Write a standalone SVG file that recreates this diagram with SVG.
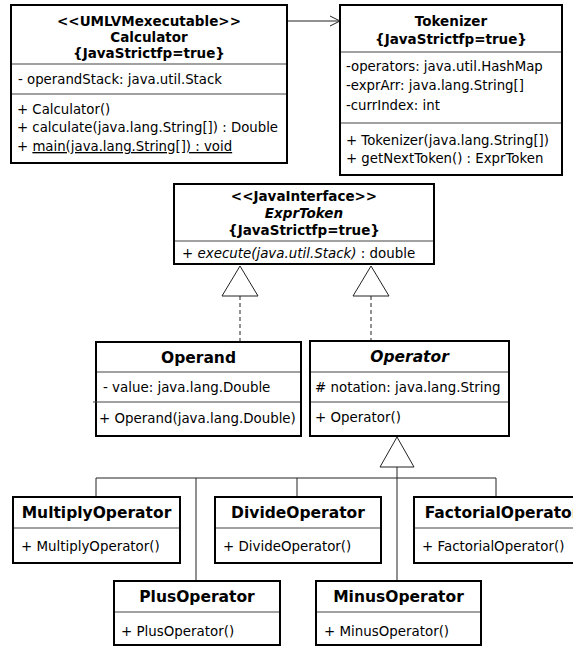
<svg xmlns="http://www.w3.org/2000/svg" width="573" height="647" viewBox="0 0 573 647">
  <style>
    .box { fill: #ffffff; stroke: #000000; stroke-width: 2; }
    .sep { stroke: #444444; stroke-width: 1.2; fill: none; }
    .hdr { font-family: "DejaVu Sans", "Liberation Sans", sans-serif; font-weight: bold; font-size: 13.5px; fill: #000; text-anchor: middle; }
    .ttl { font-family: "DejaVu Sans", "Liberation Sans", sans-serif; font-weight: bold; font-size: 15.5px; fill: #000; text-anchor: middle; }
    .mem { font-family: "DejaVu Sans", "Liberation Sans", sans-serif; font-size: 13.3px; fill: #000; }
    .mem2 { font-family: "DejaVu Sans", "Liberation Sans", sans-serif; font-size: 13.4px; fill: #000; }
    .ital { font-style: italic; }
    .conn { stroke: #222222; stroke-width: 1; fill: none; }
    .dash { stroke: #222222; stroke-width: 1; fill: none; stroke-dasharray: 4 3; }
    .tri { fill: #ffffff; stroke: #222222; stroke-width: 1; }
  </style>

  <!-- connectors -->
  <g id="connectors">
    <!-- Calculator uses Tokenizer -->
    <line class="conn" x1="288" y1="21" x2="339" y2="21"/>
    <polyline class="conn" points="330,16 340,21 330,26"/>
    <!-- Operand realizes ExprToken -->
    <line class="dash" x1="240" y1="296" x2="240" y2="341"/>
    <polygon class="tri" points="240,266 222,296 258,296"/>
    <!-- Operator realizes ExprToken -->
    <line class="dash" x1="371" y1="296" x2="371" y2="340"/>
    <polygon class="tri" points="371,266 353,296 389,296"/>
    <!-- operator subclasses generalize Operator -->
    <line class="conn" x1="96" y1="478" x2="496" y2="478"/>
    <line class="conn" x1="96" y1="478" x2="96" y2="496"/>
    <line class="conn" x1="196" y1="478" x2="196" y2="580"/>
    <line class="conn" x1="297" y1="478" x2="297" y2="496"/>
    <line class="conn" x1="496" y1="478" x2="496" y2="496"/>
    <line class="conn" x1="397" y1="467" x2="397" y2="580"/>
    <polygon class="tri" points="397,437 380,467 414,467"/>
  </g>

  <!-- Calculator -->
  <g id="calculator">
    <rect class="box" x="11" y="5" width="276" height="158"/>
    <text class="hdr" x="149" y="26">&lt;&lt;UMLVMexecutable&gt;&gt;</text>
    <text class="hdr" x="149" y="42">Calculator</text>
    <text class="hdr" x="149" y="58">{JavaStrictfp=true}</text>
    <line class="sep" x1="12" y1="64" x2="286" y2="64"/>
    <text class="mem" x="18" y="84">- operandStack: java.util.Stack</text>
    <line class="sep" x1="12" y1="94" x2="286" y2="94"/>
    <text class="mem" x="17" y="114">+ Calculator()</text>
    <text class="mem" x="17" y="132">+ calculate(java.lang.String[]) : Double</text>
    <text class="mem" x="17" y="151">+ <tspan text-decoration="underline">main(java.lang.String[]) : void</tspan></text>
  </g>

  <!-- Tokenizer -->
  <g id="tokenizer">
    <rect class="box" x="340" y="5" width="222" height="170"/>
    <text class="hdr" x="451" y="26">Tokenizer</text>
    <text class="hdr" x="451" y="44">{JavaStrictfp=true}</text>
    <line class="sep" x1="341" y1="52" x2="561" y2="52"/>
    <text class="mem" x="346" y="71">-operators: java.util.HashMap</text>
    <text class="mem" x="346" y="90">-exprArr: java.lang.String[]</text>
    <text class="mem" x="346" y="110">-currIndex: int</text>
    <line class="sep" x1="341" y1="123" x2="561" y2="123"/>
    <text class="mem" x="346" y="145">+ Tokenizer(java.lang.String[])</text>
    <text class="mem" x="346" y="163">+ getNextToken() : ExprToken</text>
  </g>

  <!-- ExprToken interface -->
  <g id="exprtoken">
    <rect class="box" x="174" y="184" width="260" height="80"/>
    <text class="hdr" x="304" y="201">&lt;&lt;JavaInterface&gt;&gt;</text>
    <text class="hdr ital" x="304" y="218">ExprToken</text>
    <text class="hdr" x="304" y="235">{JavaStrictfp=true}</text>
    <line class="sep" x1="175" y1="241" x2="433" y2="241"/>
    <text class="mem2" x="182" y="258">+ <tspan class="ital">execute(java.util.Stack)</tspan> : double</text>
  </g>

  <!-- Operand -->
  <g id="operand">
    <rect class="box" x="96" y="342" width="205" height="94"/>
    <text class="ttl" x="198.5" y="363">Operand</text>
    <line class="sep" x1="97" y1="372" x2="300" y2="372"/>
    <text class="mem2" x="103" y="392">- value: java.lang.Double</text>
    <line class="sep" x1="93" y1="402" x2="300" y2="402"/>
    <text class="mem2" x="99" y="423">+ Operand(java.lang.Double)</text>
  </g>

  <!-- Operator (abstract) -->
  <g id="operator">
    <rect class="box" x="310" y="341" width="199" height="95"/>
    <text class="ttl ital" x="409.5" y="362">Operator</text>
    <line class="sep" x1="311" y1="372" x2="508" y2="372"/>
    <text class="mem2" x="315" y="392"># notation: java.lang.String</text>
    <line class="sep" x1="311" y1="402" x2="508" y2="402"/>
    <text class="mem2" x="315" y="422">+ Operator()</text>
  </g>

  <!-- MultiplyOperator -->
  <g id="multiply">
    <rect class="box" x="13" y="497" width="167" height="66"/>
    <text class="ttl" x="96.5" y="518">MultiplyOperator</text>
    <line class="sep" x1="14" y1="528" x2="179" y2="528"/>
    <text class="mem2" x="21" y="551">+ MultiplyOperator()</text>
  </g>

  <!-- DivideOperator -->
  <g id="divide">
    <rect class="box" x="215" y="497" width="166" height="66"/>
    <text class="ttl" x="298" y="518">DivideOperator</text>
    <line class="sep" x1="216" y1="528" x2="380" y2="528"/>
    <text class="mem2" x="223" y="551">+ DivideOperator()</text>
  </g>

  <!-- FactorialOperator -->
  <g id="factorial">
    <rect class="box" x="414" y="497" width="170" height="66"/>
    <text class="ttl" x="502" y="518">FactorialOperator</text>
    <line class="sep" x1="415" y1="528" x2="583" y2="528"/>
    <text class="mem2" x="422" y="551">+ FactorialOperator()</text>
  </g>

  <!-- PlusOperator -->
  <g id="plus">
    <rect class="box" x="114" y="581" width="166" height="64"/>
    <text class="ttl" x="197" y="602">PlusOperator</text>
    <line class="sep" x1="115" y1="612" x2="279" y2="612"/>
    <text class="mem2" x="121" y="636">+ PlusOperator()</text>
  </g>

  <!-- MinusOperator -->
  <g id="minus">
    <rect class="box" x="316" y="581" width="165" height="64"/>
    <text class="ttl" x="398.5" y="602">MinusOperator</text>
    <line class="sep" x1="317" y1="612" x2="480" y2="612"/>
    <text class="mem2" x="324" y="636">+ MinusOperator()</text>
  </g>
</svg>
